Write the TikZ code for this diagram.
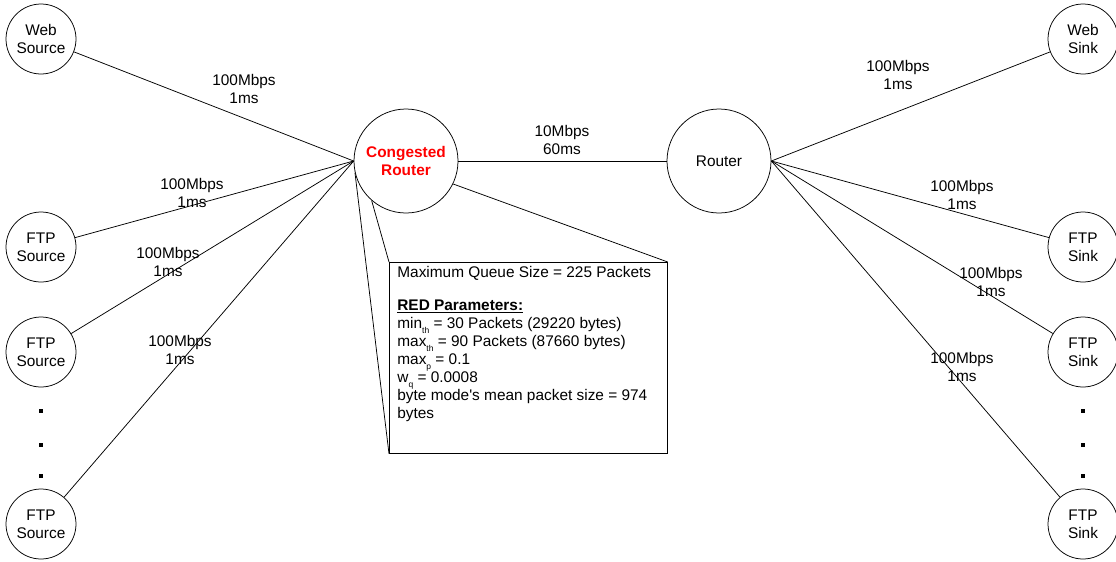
\documentclass[tikz,border=0pt]{standalone}
\usepackage{fontspec}
\setmainfont{Liberation Sans}
\newcommand\lblfont{\fontsize{15.4}{18}\selectfont}
\newcommand\lowsub[1]{\raisebox{-4.5pt}{\fontsize{8.5}{9}\selectfont #1}}
\begin{document}
\begin{tikzpicture}[x=1pt,y=-1pt, line width=0.75pt,
  host/.style={circle,draw,minimum size=70pt,inner sep=0pt,align=center,font=\lblfont},
  rtr/.style={circle,draw,minimum size=104pt,inner sep=0pt,align=center,font=\lblfont},
  lbl/.style={align=center,inner sep=0pt,font=\lblfont},
  dotmark/.style={fill=black}]
\useasboundingbox (0,0) rectangle (1116,562);
% hosts
\node[host] (ws)  at (41,39)  {Web\\Source};
\node[host] (fs1) at (41,247) {FTP\\Source};
\node[host] (fs2) at (41,352) {FTP\\Source};
\node[host] (fs3) at (41,524) {FTP\\Source};
\node[host] (wk)  at (1083,39)  {Web\\Sink};
\node[host] (fk1) at (1083,247) {FTP\\Sink};
\node[host] (fk2) at (1083,352) {FTP\\Sink};
\node[host] (fk3) at (1083,524) {FTP\\Sink};
% routers
\node[rtr, font=\lblfont\bfseries, text=red] (cr) at (406,161) {Congested\\Router};
\node[rtr] (r) at (719,161) {Router};
% dots
\foreach \yy in {411,445,476} {
  \fill[dotmark] (39,\yy-2) rectangle (43,\yy+2);
  \fill[dotmark] (1081,\yy-2) rectangle (1085,\yy+2);
}
% links
\draw (ws) -- (cr.west);
\draw (fs1) -- (cr.west);
\draw (fs2) -- (cr.west);
\draw (fs3) -- (cr.west);
\draw (cr.east) -- (r.west);
\draw (r.east) -- (wk);
\draw (r.east) -- (fk1);
\draw (r.east) -- (fk2);
\draw (r.east) -- (fk3);
% labels
\node[lbl] (l1) at (244,89)  {100Mbps\\1ms};
\node[lbl] (l2) at (192,193) {100Mbps\\1ms};
\node[lbl] (l3) at (168,262) {100Mbps\\1ms};
\node[lbl] (l4) at (180,350) {100Mbps\\1ms};
\node[lbl] (lc) at (562,140) {10Mbps\\60ms};
\node[lbl] (m1) at (898,75)  {100Mbps\\1ms};
\node[lbl] (m2) at (962,195) {100Mbps\\1ms};
\node[lbl] (m3) at (991,282) {100Mbps\\1ms};
\node[lbl] (m4) at (962,367) {100Mbps\\1ms};
% callout
\node[draw, minimum width=278pt, minimum height=191pt, anchor=north west, inner sep=0pt] (box) at (389,262) {};
\node[anchor=north west, align=left, inner sep=0pt, font=\lblfont] (boxtext) at (397,266) {%
Maximum Queue Size = 225 Packets\\[15pt]
\underline{\textbf{RED Parameters:}}\\
min\lowsub{th} = 30 Packets (29220 bytes)\\
max\lowsub{th} = 90 Packets (87660 bytes)\\
max\lowsub{p} = 0.1\\
w\lowsub{q} = 0.0008\\
byte mode\textquotesingle s mean packet size = 974\\
bytes};
\draw (cr.193) -- (box.south west);
\draw (cr.229) -- (box.north west);
\draw (cr.334) -- (box.north east);
\end{tikzpicture}
\end{document}
